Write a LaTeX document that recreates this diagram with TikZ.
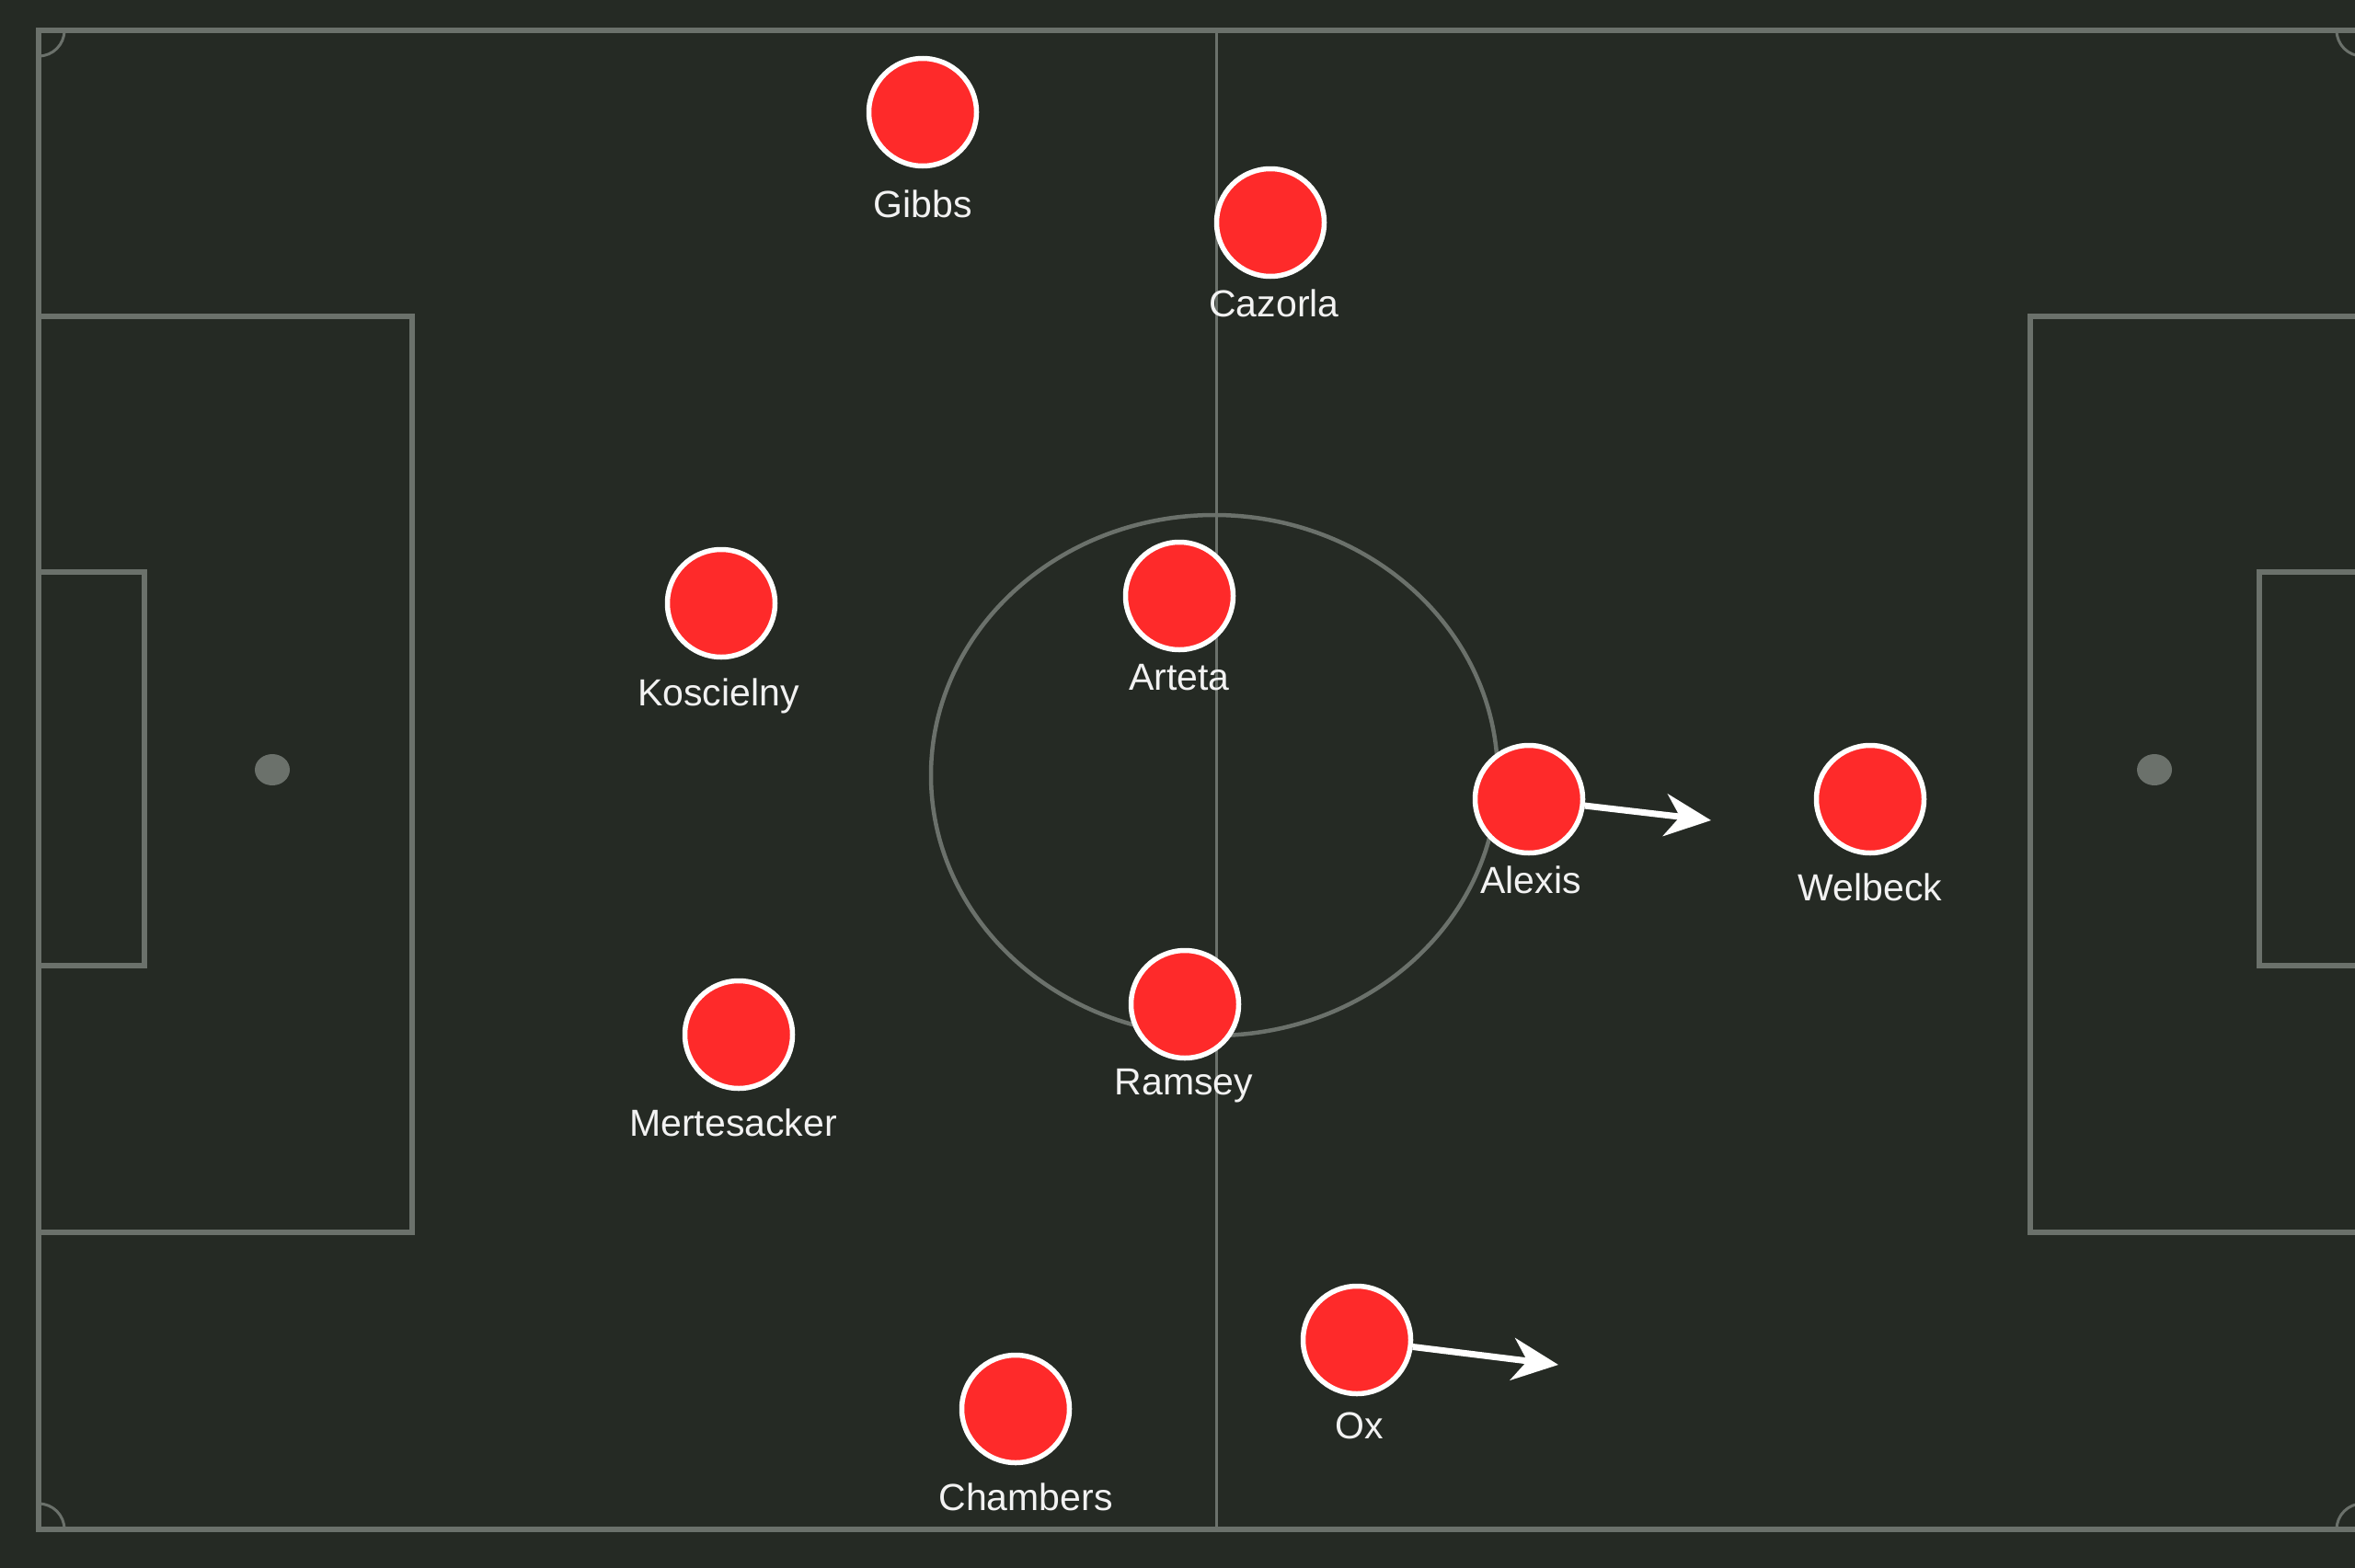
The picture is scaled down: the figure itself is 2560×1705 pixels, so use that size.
\documentclass[tikz,border=0pt]{standalone}
\usepackage{fontspec}
\setmainfont{Liberation Sans}
\usetikzlibrary{arrows.meta}
\definecolor{pitch}{HTML}{252A24}
\definecolor{pline}{HTML}{6B716B}
\definecolor{pred}{HTML}{FE2A2A}
\definecolor{ptext}{HTML}{F2F2F2}
\begin{document}
\begin{tikzpicture}[x=1pt,y=-1pt,
  pitchline/.style={draw=pline, line width=6.5pt},
  thinline/.style={draw=pline, line width=3pt},
  arcline/.style={draw=pline, line width=4.5pt},
  player/.style={circle, fill=pred, draw=white, line width=5.5pt, minimum size=117pt, inner sep=0pt},
  pname/.style={text=ptext, font=\fontsize{41}{48}\selectfont, inner sep=0pt, text height=0.72em, text depth=0pt},
  runarrow/.style={draw=white, line width=7pt, -{Stealth[length=50pt, width=46pt, inset=16pt]}}]
\fill[pitch] (0,0) rectangle (2560,1705);
\useasboundingbox (0,0) rectangle (2560,1705);
\clip (0,0) rectangle (2560,1705);
% pitch markings
\draw[pitchline] (42,33) rectangle (2568,1663);
\draw[pitchline] (42,344) rectangle (448,1340);
\draw[pitchline] (42,622) rectangle (157,1050);
\draw[pitchline] (2207,344) rectangle (2568,1340);
\draw[pitchline] (2456,622) rectangle (2568,1050);
\fill[pline] (296,837) ellipse [x radius=19, y radius=17];
\fill[pline] (2342,837) ellipse [x radius=19, y radius=17];
\draw[thinline] (1322,33) -- (1322,1663);
\draw[arcline] (1320,843) ellipse [x radius=308, y radius=283];
\draw[thinline] (70,33) arc [start angle=0, end angle=90, radius=28];
\draw[thinline] (2540,33) arc [start angle=180, end angle=90, radius=28];
\draw[thinline] (70,1663) arc [start angle=0, end angle=-90, radius=28];
\draw[thinline] (2540,1663) arc [start angle=180, end angle=270, radius=28];
% players
\node[player] (gibbs) at (1003,122) {};
\node[pname] (gibbsL) at (1003,233) {Gibbs};
\node[player] (cazorla) at (1381,242) {};
\node[pname] (cazorlaL) at (1385,341) {Cazorla};
\node[player] (koscielny) at (784,656) {};
\node[pname] (koscielnyL) at (781,764) {Koscielny};
\node[player] (arteta) at (1282,648) {};
\node[pname] (artetaL) at (1282,747) {Arteta};
\node[player] (alexis) at (1662,869) {};
\node[pname] (alexisL) at (1664,968) {Alexis};
\node[player] (welbeck) at (2033,869) {};
\node[pname] (welbeckL) at (2033,976) {Welbeck};
\node[player] (mertesacker) at (803,1125) {};
\node[pname] (mertesackerL) at (797,1232) {Mertesacker};
\node[player] (ramsey) at (1288,1092) {};
\node[pname] (ramseyL) at (1287,1187) {Ramsey};
\node[player] (ox) at (1475,1457) {};
\node[pname] (oxL) at (1478,1561) {Ox};
\node[player] (chambers) at (1104,1532) {};
\node[pname] (chambersL) at (1115,1639) {Chambers};
% runs
\coordinate (alexisT) at (1860,892);
\coordinate (oxT) at (1694,1484);
\draw[runarrow] (alexis) -- (alexisT);
\draw[runarrow] (ox) -- (oxT);
\end{tikzpicture}
\end{document}
